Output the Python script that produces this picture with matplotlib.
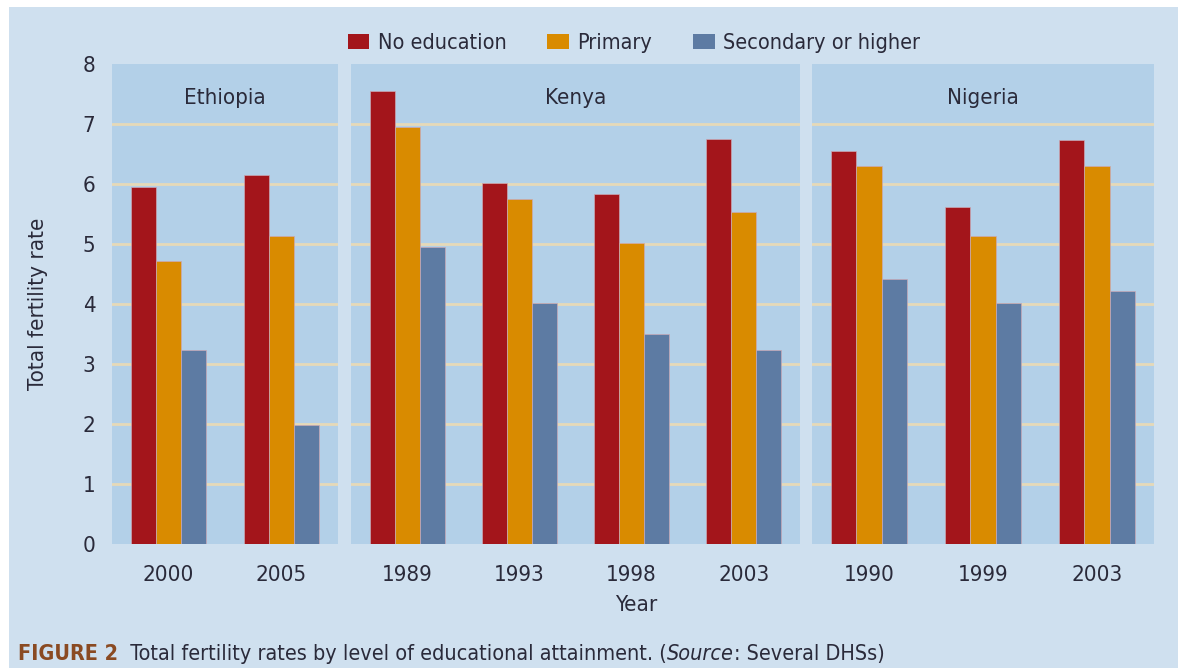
import matplotlib
matplotlib.use("Agg")
import matplotlib.pyplot as plt
from matplotlib.patches import Rectangle, Patch

plt.rcParams["font.family"] = ["DejaVu Sans"]
plt.rcParams["font.stretch"] = "condensed"

countries = ["Ethiopia", "Kenya", "Nigeria"]
years = {
    "Ethiopia": ["2000", "2005"],
    "Kenya": ["1989", "1993", "1998", "2003"],
    "Nigeria": ["1990", "1999", "2003"],
}
no_education = {
    "Ethiopia": [5.95, 6.15],
    "Kenya": [7.55, 6.02, 5.83, 6.75],
    "Nigeria": [6.55, 5.62, 6.74],
}
primary = {
    "Ethiopia": [4.72, 5.13],
    "Kenya": [6.95, 5.75, 5.02, 5.53],
    "Nigeria": [6.30, 5.14, 6.30],
}
secondary = {
    "Ethiopia": [3.23, 1.98],
    "Kenya": [4.95, 4.02, 3.50, 3.23],
    "Nigeria": [4.42, 4.02, 4.22],
}
series_names = ["No education", "Primary", "Secondary or higher"]
colors = ["#a3151b", "#d98b00", "#5d7ba3"]

OUTER_BG = "#cfe0ef"
PANEL_BG = "#b3d0e8"
GRID = "#e6d9b8"
TEXT = "#2a2a3a"
FS = 16

W, H = 1178, 668
fig = plt.figure(figsize=(W / 100, H / 100), dpi=100, facecolor="white")
fig.patches.append(Rectangle((9 / W, 0), 1 - 9 / W, 1 - 7 / H, transform=fig.transFigure,
                             facecolor=OUTER_BG, edgecolor="none", zorder=-5))

# panel extents in pixels (left, right)
panels = {"Ethiopia": (112, 338), "Kenya": (351, 800), "Nigeria": (812, 1154)}
top_px, bottom_px = 64, 544

bar_w = 0.222
for i, c in enumerate(countries):
    l, r = panels[c]
    ax = fig.add_axes([l / W, 1 - bottom_px / H, (r - l) / W, (bottom_px - top_px) / H])
    ax.set_facecolor(PANEL_BG)
    n = len(years[c])
    xs = list(range(n))
    for k, vals in enumerate([no_education[c], primary[c], secondary[c]]):
        ax.bar([x + (k - 1) * bar_w for x in xs], vals, width=bar_w, color=colors[k],
               edgecolor="#c9a9b6", linewidth=0.5, zorder=3)
    ax.set_xlim(-0.5, n - 0.5)
    ax.set_ylim(0, 8)
    ax.set_yticks(range(0, 9))
    for yv in range(1, 8):
        ax.axhline(yv, color=GRID, linewidth=2, zorder=1)
    ax.set_xticks(xs)
    ax.set_xticklabels(years[c], fontsize=FS, color=TEXT)
    ax.tick_params(axis="x", length=0, pad=15)
    if i == 0:
        ax.tick_params(axis="y", length=0, pad=12, labelsize=FS, labelcolor=TEXT)
    else:
        ax.tick_params(axis="y", length=0, labelleft=False)
    for s in ax.spines.values():
        s.set_visible(False)
    ax.text(0.5, 0.93, c, transform=ax.transAxes, ha="center", va="center",
            fontsize=FS, color=TEXT, fontweight="medium")

fig.text(636 / W, 1 - 605 / H, "Year", ha="center", va="center", fontsize=FS, color=TEXT)
fig.text(38 / W, 1 - 304 / H, "Total fertility rate", ha="center", va="center",
         rotation=90, fontsize=FS, color=TEXT)

handles = [Patch(facecolor=col, edgecolor="none") for col in colors]
fig.legend(handles, series_names, loc="center", bbox_to_anchor=(634 / W, 1 - 43 / H),
           ncol=3, frameon=False, fontsize=15.5, handlelength=1.0, handleheight=0.75,
           handletextpad=0.4, columnspacing=1.9, labelcolor=TEXT)

# caption built from pieces
fig.canvas.draw()
renderer = fig.canvas.get_renderer()
x = 18 / W
y = 1 - 654 / H
pieces = [
    ("FIGURE 2", dict(fontweight="bold", color="#8a4a22")),
    ("  Total fertility rates by level of educational attainment. (", dict(color=TEXT)),
    ("Source", dict(color=TEXT, style="italic")),
    (": Several DHSs)", dict(color=TEXT)),
]
for txt, kw in pieces:
    t = fig.text(x, y, txt, ha="left", va="center", fontsize=15.5, **kw)
    bb = t.get_window_extent(renderer=renderer)
    x += bb.width / W

fig.savefig("out.png", dpi=100, facecolor="white")
